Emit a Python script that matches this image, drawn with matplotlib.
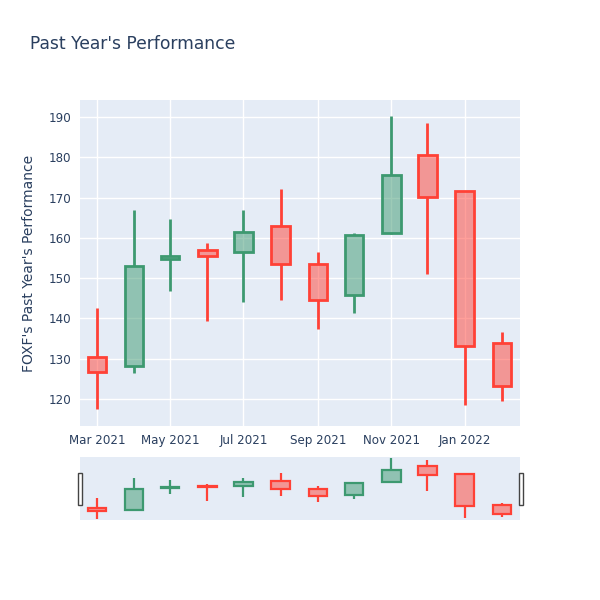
import matplotlib
matplotlib.use("Agg")
import matplotlib.pyplot as plt
import matplotlib.dates as mdates
from matplotlib.patches import Rectangle
import numpy as np
from datetime import datetime

# monthly candles
dates = ["2021-03-01", "2021-04-01", "2021-05-01", "2021-06-01", "2021-07-01", "2021-08-01",
         "2021-09-01", "2021-10-01", "2021-11-01", "2021-12-01", "2022-01-01", "2022-02-01"]
opens = [130.3, 128.3, 154.8, 157.0, 156.6, 163.0, 153.4, 145.8, 161.1, 180.6, 171.5, 133.8]
highs = [142.5, 166.8, 164.6, 158.8, 166.8, 172.1, 156.5, 161.1, 190.2, 188.4, 171.6, 136.6]
lows = [117.5, 126.4, 146.7, 139.4, 144.0, 144.6, 137.3, 141.3, 161.0, 151.0, 118.4, 119.4]
closes = [126.8, 153.1, 155.4, 155.6, 161.4, 153.6, 144.5, 160.8, 175.6, 170.1, 133.1, 123.3]

tick_dates = ["2021-03-01", "2021-05-01", "2021-07-01", "2021-09-01", "2021-11-01", "2022-01-01"]
tick_labels = ["Mar 2021", "May 2021", "Jul 2021", "Sep 2021", "Nov 2021", "Jan 2022"]

UP = "#3D9970"
DOWN = "#FF4136"
BG = "#E5ECF6"
TXT = "#2a3f5f"

x = mdates.date2num([datetime.strptime(d, "%Y-%m-%d") for d in dates])
xmin = mdates.date2num(datetime(2021, 2, 15))
xmax = mdates.date2num(datetime(2022, 2, 16))
body_w = 15.5


def draw_candles(ax, lw):
    for xi, o, h, l, c in zip(x, opens, highs, lows, closes):
        col = UP if c >= o else DOWN
        lo, hi = min(o, c), max(o, c)
        ax.plot([xi, xi], [l, lo], color=col, lw=lw, solid_capstyle="butt", zorder=3)
        ax.plot([xi, xi], [hi, h], color=col, lw=lw, solid_capstyle="butt", zorder=3)
        ax.add_patch(Rectangle((xi - body_w / 2, lo), body_w, hi - lo,
                               facecolor=matplotlib.colors.to_rgba(col, 0.5),
                               edgecolor=col, lw=lw, zorder=4))


fig = plt.figure(figsize=(6, 6), dpi=100)
fig.text(30 / 600, 1 - 44 / 600, "Past Year's Performance", fontsize=12.3, color=TXT,
         va="center", ha="left")

ax = fig.add_axes([80 / 600, 1 - 426 / 600, 440 / 600, 326 / 600])
ax.set_facecolor(BG)
for s in ax.spines.values():
    s.set_visible(False)
ax.grid(True, color="white", lw=1)
ax.set_axisbelow(True)
draw_candles(ax, 2)
ax.set_xlim(xmin, xmax)
ax.set_ylim(113.3, 194.2)
ax.set_yticks(np.arange(120, 191, 10))
ax.set_xticks(mdates.date2num([datetime.strptime(d, "%Y-%m-%d") for d in tick_dates]))
ax.set_xticklabels(tick_labels)
ax.tick_params(length=0, labelsize=8.6, labelcolor=TXT, pad=6)
ax.set_ylabel("FOXF's Past Year's Performance", fontsize=10, color=TXT, labelpad=9)

# range slider
sl = fig.add_axes([80 / 600, 1 - 520 / 600, 440 / 600, 63 / 600])
sl.set_facecolor(BG)
for s in sl.spines.values():
    s.set_visible(False)
draw_candles(sl, 1.6)
sl.set_xlim(xmin, xmax)
sl.set_ylim(min(lows) - 1.5, max(highs) + 1.5)
sl.set_xticks([])
sl.set_yticks([])

for hx in (79.5, 520.5):
    fig.patches.append(Rectangle((hx / 600 - 2 / 600, 1 - 505 / 600), 4 / 600, 32 / 600,
                                 transform=fig.transFigure, facecolor="white",
                                 edgecolor="#444444", lw=1, zorder=10))

fig.savefig("out.png", dpi=100)
